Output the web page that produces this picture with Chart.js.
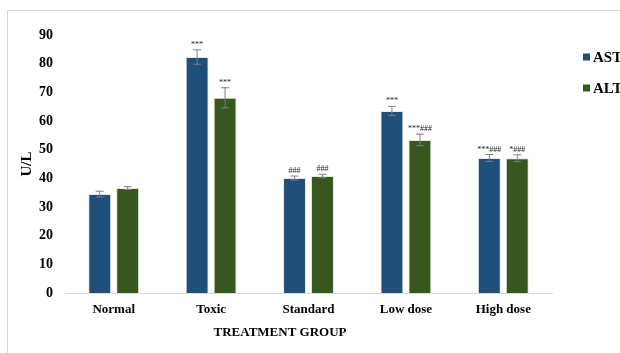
<!DOCTYPE html>
<html>
<head>
<meta charset="utf-8">
<script src="https://cdn.jsdelivr.net/npm/chart.js@4"></script>
<style>
  body { margin: 0; background: #fff; }
  #wrap { width: 620px; height: 353px; position: relative; }
</style>
</head>
<body>
<div id="wrap"><canvas id="liverChart" width="620" height="353"></canvas></div>
<script>
// data
const groups = ['Normal', 'Toxic', 'Standard', 'Low dose', 'High dose'];
const astValues = [34.5, 82.3, 40.1, 63.5, 47.1];
const astErrors = [1.0, 2.5, 0.7, 1.6, 1.2];
const altValues = [36.6, 68.1, 40.8, 53.4, 47.0];
const altErrors = [0.5, 3.5, 0.6, 2.0, 1.2];
const astMarks = ['', '***', '###', '***', '***###'];
const altMarks = ['', '***', '###', '***###', '*###'];
const yTicks = [0, 10, 20, 30, 40, 50, 60, 70, 80, 90];

const serif = '"Liberation Serif", "Times New Roman", serif';

// error bars + significance marks
const errorBarPlugin = {
    id: 'errorBars',
    afterDatasetsDraw(chart) {
        const ctx = chart.ctx;
        const y = chart.scales.y;
        chart.data.datasets.forEach((ds, i) => {
            const meta = chart.getDatasetMeta(i);
            meta.data.forEach((bar, j) => {
                const v = ds.data[j];
                const e = ds.errors[j];
                const top = y.getPixelForValue(v + e);
                const bot = y.getPixelForValue(v - e);
                ctx.save();
                ctx.strokeStyle = '#7f7f7f';
                ctx.lineWidth = 1;
                ctx.beginPath();
                ctx.moveTo(bar.x, top); ctx.lineTo(bar.x, bot);
                ctx.moveTo(bar.x - 4, top); ctx.lineTo(bar.x + 4, top);
                ctx.moveTo(bar.x - 4, bot); ctx.lineTo(bar.x + 4, bot);
                ctx.stroke();
                if (ds.marks[j]) {
                    ctx.fillStyle = '#222';
                    ctx.font = '8px ' + serif;
                    ctx.textAlign = 'center';
                    ctx.textBaseline = 'bottom';
                    ctx.fillText(ds.marks[j], bar.x, top - 1);
                }
                ctx.restore();
            });
        });
    }
};

// frame, axis titles and legend
const decorPlugin = {
    id: 'decor',
    beforeDraw(chart) {
        const ctx = chart.ctx;
        ctx.save();
        ctx.fillStyle = '#fff';
        ctx.fillRect(0, 0, chart.width, chart.height);
        ctx.strokeStyle = '#d6d6d6';
        ctx.lineWidth = 1;
        ctx.beginPath();
        ctx.moveTo(7.5, chart.height);
        ctx.lineTo(7.5, 10.5);
        ctx.lineTo(chart.width, 10.5);
        ctx.stroke();
        ctx.restore();
    },
    afterDraw(chart) {
        const ctx = chart.ctx;
        const area = chart.chartArea;
        ctx.save();
        ctx.fillStyle = '#000';
        // y title
        ctx.font = 'bold 15px ' + serif;
        ctx.textAlign = 'center';
        ctx.textBaseline = 'middle';
        ctx.translate(27, (area.top + area.bottom) / 2);
        ctx.rotate(-Math.PI / 2);
        ctx.fillText('U/L', 0, 0);
        ctx.restore();

        ctx.save();
        ctx.fillStyle = '#000';
        ctx.font = 'bold 13px ' + serif;
        ctx.textAlign = 'center';
        ctx.textBaseline = 'middle';
        ctx.fillText('TREATMENT GROUP', 280, 333);

        // legend
        ctx.font = 'bold 15px ' + serif;
        ctx.textAlign = 'left';
        chart.data.datasets.forEach((ds, i) => {
            const ly = 57 + i * 31;
            ctx.fillStyle = ds.backgroundColor;
            ctx.fillRect(583, ly - 3.5, 7, 7);
            ctx.fillStyle = '#000';
            ctx.fillText(ds.label, 593, ly + 1);
        });
        ctx.restore();
    }
};

const ctx = document.getElementById('liverChart').getContext('2d');
const chart = new Chart(ctx, {
    type: 'bar',
    data: {
        labels: groups,
        datasets: [
            {
                label: 'AST',
                data: astValues,
                errors: astErrors,
                marks: astMarks,
                backgroundColor: '#1f4e79',
                borderColor: 'rgba(200,220,240,0.6)',
                borderWidth: 1,
                categoryPercentage: 0.574,
                barPercentage: 0.82
            },
            {
                label: 'ALT',
                data: altValues,
                errors: altErrors,
                marks: altMarks,
                backgroundColor: '#38571f',
                borderColor: 'rgba(200,220,200,0.6)',
                borderWidth: 1,
                categoryPercentage: 0.574,
                barPercentage: 0.82
            }
        ]
    },
    options: {
        responsive: false,
        animation: false,
        devicePixelRatio: 1,
        layout: { padding: { top: 35, right: 68, left: 10, bottom: 0 } },
        plugins: {
            legend: { display: false },
            tooltip: { enabled: false }
        },
        scales: {
            x: {
                grid: { display: false, drawTicks: false },
                border: { color: '#d9d9d9', width: 1 },
                ticks: {
                    color: '#000',
                    padding: 9,
                    font: { family: serif, size: 13, weight: 'bold' }
                },
                afterFit: s => { s.height = 60; }
            },
            y: {
                min: 0,
                max: 90,
                grid: { display: false, drawTicks: false },
                border: { display: false },
                afterBuildTicks: s => { s.ticks = yTicks.map(v => ({ value: v })); },
                ticks: {
                    color: '#000',
                    padding: 12,
                    font: { family: serif, size: 14, weight: 'bold' }
                },
                afterFit: s => { s.width = 55; }
            }
        }
    },
    plugins: [decorPlugin, errorBarPlugin]
});
</script>
</body>
</html>
